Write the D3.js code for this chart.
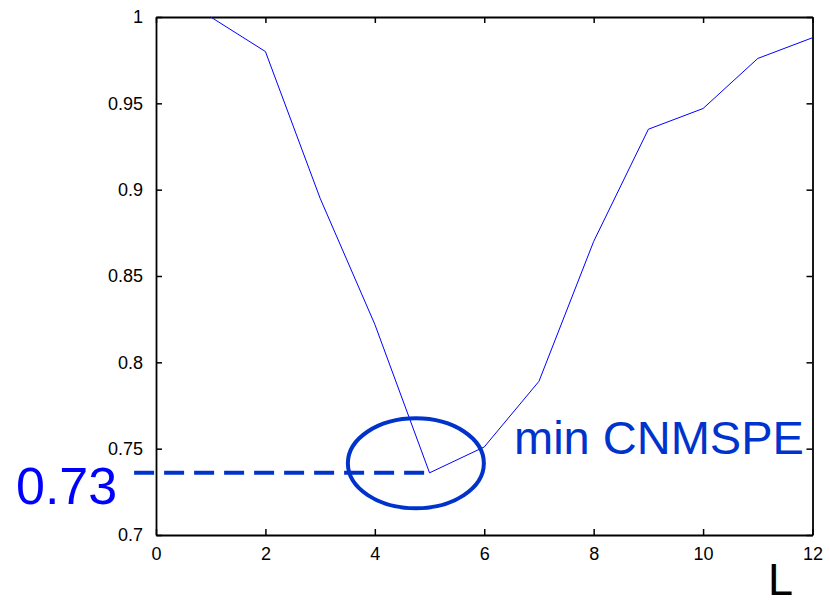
<!DOCTYPE html>
<html><head><meta charset="utf-8">
<script src="https://cdn.jsdelivr.net/npm/d3@7"></script>
<style>body{margin:0;background:#fff}svg{display:block}text{font-family:"Liberation Sans",Arial,sans-serif}</style>
</head><body><svg id="c" width="830" height="606"></svg>
<script>
const L = [1,2,3,4,5,6,7,8,9,10,11,12];
const cnmspe = [1.0,0.98,0.895,0.822,0.736,0.751,0.789,0.870,0.935,0.947,0.976,0.988];
const xTicks = [0,2,4,6,8,10,12];
const yTicks = [0.7,0.75,0.8,0.85,0.9,0.95,1];
const minL = 5, minVal = 0.736, minLabel = "0.73", annot = "min CNMSPE", xLabel = "L";

const svg = d3.select("#c");
const m = {l:156, r:812.5, t:17, b:535};
const x = d3.scaleLinear().domain([0,12]).range([m.l,m.r]);
const y = d3.scaleLinear().domain([0.7,1]).range([m.b,m.t]);

const g = svg.append("g");
const ax = (sel) => sel.selectAll("path,line").attr("stroke","#000").attr("stroke-width",1.5);
g.append("g").attr("transform",`translate(0,${m.b})`)
  .call(d3.axisBottom(x).tickValues(xTicks).tickFormat(d3.format("d")).tickSizeInner(-6).tickSizeOuter(0).tickPadding(12))
  .call(ax).call(s=>s.selectAll("text").attr("font-size",18).attr("fill","#000"));
g.append("g").attr("transform",`translate(0,${m.t})`)
  .call(d3.axisTop(x).tickValues(xTicks).tickFormat("").tickSizeInner(-6).tickSizeOuter(0)).call(ax);
g.append("g").attr("transform",`translate(${m.l},0)`)
  .call(d3.axisLeft(y).tickValues(yTicks).tickFormat(d=>String(d)).tickSizeInner(-6).tickSizeOuter(0).tickPadding(13))
  .call(ax).call(s=>s.selectAll("text").attr("font-size",18).attr("fill","#000"));
g.append("g").attr("transform",`translate(${m.r},0)`)
  .call(d3.axisRight(y).tickValues(yTicks).tickFormat("").tickSizeInner(-6).tickSizeOuter(0)).call(ax);
g.selectAll(".domain").attr("stroke-width",1.8);

const line = d3.line().x((d,i)=>x(L[i])).y(d=>y(d));
g.append("path").datum(cnmspe).attr("d",line).attr("fill","none").attr("stroke","#0000ff").attr("stroke-width",1);

const ac = "#0033cc";
g.append("line").attr("x1",x(-0.4)).attr("x2",x(minL)).attr("y1",y(minVal)).attr("y2",y(minVal))
  .attr("stroke",ac).attr("stroke-width",4).attr("stroke-dasharray","20,10");
g.append("ellipse").attr("cx",x(4.75)).attr("cy",y(0.7415)).attr("rx",68).attr("ry",45)
  .attr("fill","none").attr("stroke",ac).attr("stroke-width",4);
g.append("text").attr("x",16).attr("y",504).attr("font-size",52).attr("fill","#0000ff").text(minLabel);
g.append("text").attr("x",514).attr("y",454).attr("font-size",47).attr("fill",ac).text(annot);
g.append("text").attr("x",768).attr("y",595).attr("font-size",45).attr("fill","#000").text(xLabel);
</script></body></html>
